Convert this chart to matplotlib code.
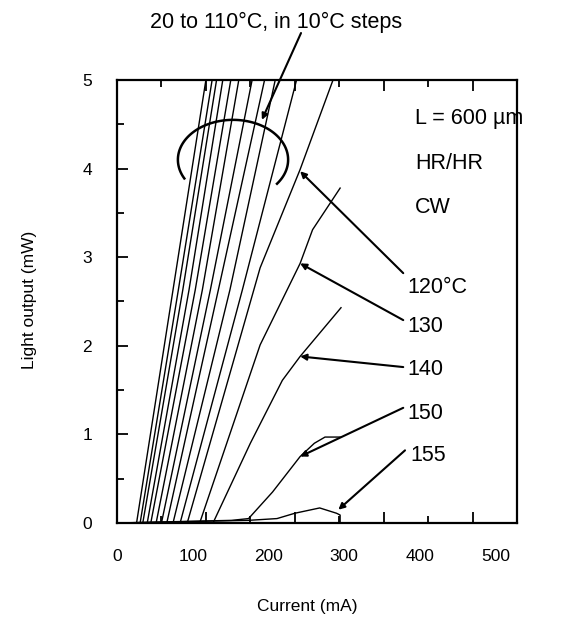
import numpy as np
import matplotlib
matplotlib.use("Agg")
import matplotlib.pyplot as plt

plt.rcParams['font.family'] = ['Liberation Sans', 'DejaVu Sans']

# light output vs current (mA, mW)
temps_low = [20, 30, 40, 50, 60, 70, 80, 90, 100, 110]
low_current = [
    [0, 22, 63, 100],
    [0, 26, 69, 107],
    [0, 29, 74, 112],
    [0, 34, 81, 119],
    [0, 38, 88, 128],
    [0, 44, 96, 137],
    [0, 50, 105, 152],
    [0, 56, 114, 166],
    [0, 63, 127, 178],
    [0, 71, 141, 202],
]
low_power = [0, 0, 2.63, 5.0]

i_120 = [0, 79, 161, 206, 243]
p_120 = [0, 0, 2.88, 3.99, 5.0]
i_130 = [0, 93, 161, 206, 220, 251]
p_130 = [0, 0, 2.01, 2.93, 3.31, 3.78]
i_140 = [0, 108, 150, 186, 206, 252]
p_140 = [0, 0, 0.90, 1.61, 1.88, 2.43]
i_150 = [0, 129, 148, 175, 206, 222, 234, 251]
p_150 = [0, 0.03, 0.05, 0.35, 0.75, 0.90, 0.97, 0.97]
i_155 = [0, 148, 180, 200, 228, 247, 251, 251]
p_155 = [0, 0.03, 0.05, 0.11, 0.17, 0.11, 0.09, 0.0]

hot_labels = ['120°C', '130', '140', '150', '155']
label_pos = [(327, 2.66), (327, 2.22), (327, 1.73), (327, 1.24), (330, 0.76)]
arrow_tail = [(322, 2.82), (322, 2.29), (322, 1.76), (322, 1.30), (324, 0.82)]
arrow_tip = [(206, 3.97), (206, 2.93), (206, 1.88), (206, 0.75), (249, 0.15)]

fig = plt.figure(figsize=(5.85, 6.21), dpi=100)
ax = fig.add_axes([0.2, 0.1578, 0.6838, 0.7134])

for cur in low_current:
    ax.plot(cur, low_power, color='black', lw=1.0)
for cur, pw in [(i_120, p_120), (i_130, p_130), (i_140, p_140),
                (i_150, p_150), (i_155, p_155)]:
    ax.plot(cur, pw, color='black', lw=1.0)

ax.set_xlim(0, 450)
ax.set_ylim(0, 5)
ax.set_xticks(np.arange(0, 451, 100))
ax.set_xticks(np.arange(50, 451, 100), minor=True)
ax.set_yticks(np.arange(0, 6, 1))
ax.set_yticks(np.arange(0.5, 5, 1), minor=True)
ax.tick_params(axis='x', which='both', direction='in', top=True, bottom=True,
               labelbottom=False, width=1.3)
ax.tick_params(axis='y', which='both', direction='in', left=True, right=False,
               labelsize=12.5, pad=18, width=1.3)
ax.tick_params(which='major', length=8)
ax.tick_params(which='minor', length=5)
for s in ax.spines.values():
    s.set_linewidth(1.6)

# the printed current labels sit on their own (narrower) scale
k = 0.852
sec = ax.secondary_xaxis('bottom', functions=(lambda x: x / k, lambda x: x * k))
sec.set_xticks(np.arange(0, 501, 100))
sec.tick_params(length=0, pad=19, labelsize=12.5)
sec.spines['bottom'].set_visible(False)

# bracket round the 20-110 C group
t = np.radians(np.linspace(-37, 208, 100))
ax.plot(130.5 + 62 * np.cos(t), 4.10 + 0.45 * np.sin(t), color='black', lw=1.8)

fs = 15.5
ax.text(179, 5.65, '20 to 110°C, in 10°C steps', ha='center', va='center',
        fontsize=fs, clip_on=False)
ax.annotate('', xy=(163, 4.55), xytext=(207, 5.53), annotation_clip=False,
            arrowprops=dict(arrowstyle='-|>', color='black', lw=1.5,
                            mutation_scale=9, shrinkA=0, shrinkB=0))

for lab, pos, tail, tip in zip(hot_labels, label_pos, arrow_tail, arrow_tip):
    ax.text(pos[0], pos[1], lab, ha='left', va='center', fontsize=fs)
    ax.annotate('', xy=tip, xytext=tail,
                arrowprops=dict(arrowstyle='-|>', color='black', lw=1.5,
                                mutation_scale=9, shrinkA=0, shrinkB=0))

ax.text(335, 4.57, 'L = 600 µm', ha='left', va='center', fontsize=fs)
ax.text(335, 4.06, 'HR/HR', ha='left', va='center', fontsize=fs)
ax.text(335, 3.56, 'CW', ha='left', va='center', fontsize=fs)

fig.text(30 / 585, 1 - 300 / 621, 'Light output (mW)', rotation=90,
         ha='center', va='center', fontsize=12.5)
fig.text(307 / 585, 1 - 607 / 621, 'Current (mA)', ha='center', va='center',
         fontsize=12.5)

fig.savefig('out.png', dpi=100)
